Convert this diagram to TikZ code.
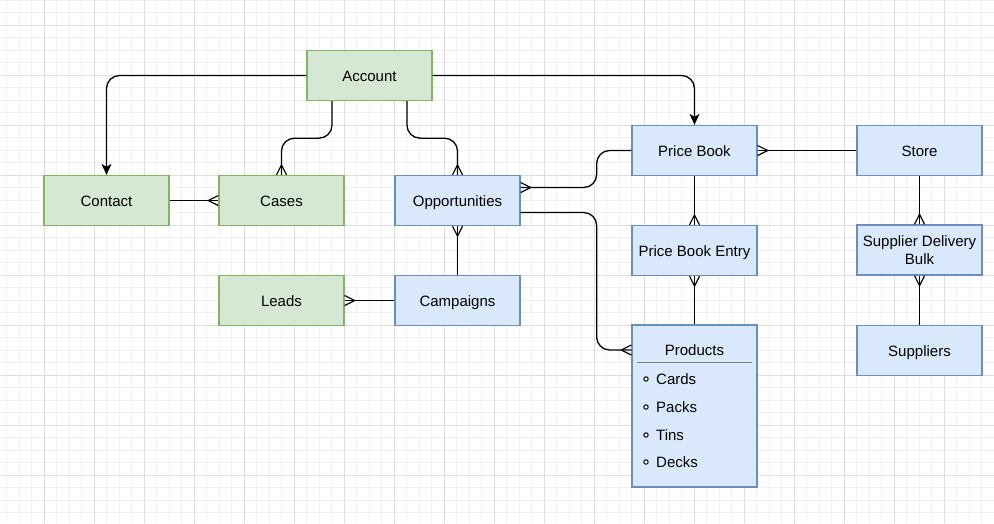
\documentclass[tikz,border=0pt]{standalone}
\usepackage{fontspec}
\setmainfont{Liberation Sans}
\usetikzlibrary{arrows.meta,calc}
\definecolor{gfill}{HTML}{D5E8D4}
\definecolor{gline}{HTML}{82B366}
\definecolor{bfill}{HTML}{DAE8FC}
\definecolor{bline}{HTML}{6C8EBF}
\definecolor{gridmajor}{HTML}{DDDDDD}
\definecolor{gridminor}{HTML}{F0F0F0}
\tikzset{
  ent/.style={draw, line width=1.3pt, minimum width=125pt, minimum height=50pt,
    inner sep=2pt, align=center, font=\fontsize{15}{18}\selectfont},
  one/.style={text height=14pt, text depth=3pt},
  gent/.style={ent, one, fill=gfill, draw=gline},
  bent/.style={ent, one, fill=bfill, draw=bline},
  bent2/.style={ent, fill=bfill, draw=bline},
  conn/.style={draw=black, line width=1.3pt, rounded corners=13pt},
  arr/.style={conn, -{Stealth[length=11pt,width=10pt,inset=3pt]}},
  crow/.pic={\draw[line width=1.2pt] (-10,0) -- (0,5) (-10,0) -- (0,-5);},
  itemtxt/.style={font=\fontsize{15}{18}\selectfont, anchor=west, inner sep=0pt}
}
\begin{document}
\begin{tikzpicture}[x=1pt,y=-1pt]
\useasboundingbox (0,0) rectangle (994,523);
\fill[white] (0,0) rectangle (994,523);
% grid
\foreach \i in {0,...,79} {\draw[gridminor, line width=0.8pt] ({6.5+12.5*\i},0) -- ({6.5+12.5*\i},523);}
\foreach \i in {0,...,41} {\draw[gridminor, line width=0.8pt] (0,{12.5*\i}) -- (994,{12.5*\i});}
\foreach \i in {0,...,19} {\draw[gridmajor, line width=0.8pt] ({44+50*\i},0) -- ({44+50*\i},523);}
\foreach \i in {0,...,10} {\draw[gridmajor, line width=0.8pt] (0,{25+50*\i}) -- (994,{25+50*\i});}

% nodes
\node[gent] (account) at (369.5,75.5) {Account};
\node[gent] (contact) at (106.5,200.5) {Contact};
\node[gent] (cases) at (281.5,200.5) {Cases};
\node[bent] (opp) at (457.5,200.5) {Opportunities};
\node[gent] (leads) at (281.5,300.5) {Leads};
\node[bent] (campaigns) at (457.5,300.5) {Campaigns};
\node[bent] (pricebook) at (694.5,150.5) {Price Book};
\node[bent] (store) at (919.5,150.5) {Store};
\node[bent] (pbe) at (694.5,250.5) {Price Book Entry};
\node[bent2] (sdb) at (919.5,250) {Supplier Delivery\\Bulk};
\node[bent] (suppliers) at (919.5,350.5) {Suppliers};
\node[bent2, minimum height=162pt] (products) at (694.5,406) {};
\node[itemtxt, one, anchor=center] (ptitle) at (694.5,350) {Products};
\draw[gray, line width=1pt] ($(products.north west)+(6,38)$) coordinate (hl) -- ($(products.north east)+(-6,38)$) coordinate (hr);
\foreach \t/\yy [count=\k] in {Cards/379, Packs/407, Tins/435, Decks/462} {
  \draw[line width=1pt, fill=white] (646,\yy) circle (2.2pt);
  \node[itemtxt, one] (item\k) at (656,\yy) {\t};
}

% connectors
\draw[arr] (account.west) -| (contact.north);
\draw[arr] (account.east) -| (pricebook.north);
\draw[conn] ([xshift=-37.5pt]account.south) -- ++(0,37) -| (cases.north);
\pic[rotate=-90] at (cases.north) {crow};
\draw[conn] ([xshift=37.5pt]account.south) -- ++(0,37) -| (opp.north);
\pic[rotate=-90] at (opp.north) {crow};
\draw[conn] (contact.east) -- (cases.west);
\pic at (cases.west) {crow};
\draw[conn] ([yshift=13pt]opp.east) -- ++(76,0) |- (pricebook.west);
\pic[rotate=180] at ([yshift=13pt]opp.east) {crow};
\draw[conn] ([yshift=-12pt]opp.east) -- ++(76,0) |- ([yshift=56pt]products.west);
\pic at ([yshift=56pt]products.west) {crow};
\draw[conn] (campaigns.north) -- (opp.south);
\pic[rotate=90] at (opp.south) {crow};
\draw[conn] (campaigns.west) -- (leads.east);
\pic[rotate=180] at (leads.east) {crow};
\draw[conn] (pricebook.south) -- (pbe.north);
\pic[rotate=-90] at (pbe.north) {crow};
\draw[conn] (products.north) -- (pbe.south);
\pic[rotate=90] at (pbe.south) {crow};
\draw[conn] (store.west) -- (pricebook.east);
\pic[rotate=180] at (pricebook.east) {crow};
\draw[conn] (store.south) -- (sdb.north);
\pic[rotate=-90] at (sdb.north) {crow};
\draw[conn] (suppliers.north) -- (sdb.south);
\pic[rotate=90] at (sdb.south) {crow};
\end{tikzpicture}
\end{document}
